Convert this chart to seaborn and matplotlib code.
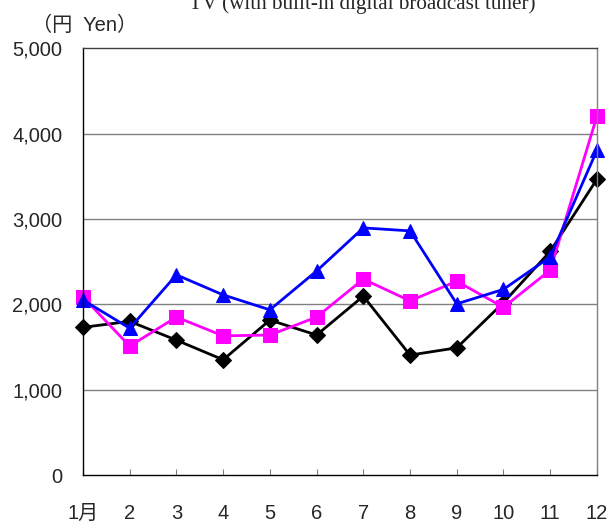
import matplotlib
matplotlib.use("Agg")
import matplotlib.pyplot as plt
import seaborn as sns
import pandas as pd

months = list(range(1, 13))
month_labels = ["1月", "2", "3", "4", "5", "6", "7", "8", "9", "10", "11", "12"]
black_vals = [1730, 1800, 1580, 1350, 1815, 1640, 2095, 1405, 1490, 2020, 2620, 3465]
magenta_vals = [2085, 1510, 1850, 1630, 1640, 1850, 2295, 2040, 2270, 1965, 2400, 4205]
blue_vals = [2050, 1720, 2345, 2110, 1935, 2390, 2895, 2860, 2005, 2175, 2555, 3805]
y_ticks = [0, 1000, 2000, 3000, 4000, 5000]

sns.set_style("white")
plt.rcParams["font.family"] = ["Liberation Sans", "Noto Sans CJK JP", "DejaVu Sans"]

fig = plt.figure(figsize=(6.11, 5.24), dpi=100)
ax = fig.add_axes([0.1358, 0.0935, 0.8412, 0.8145])

for vals, col, mk, ms in [(black_vals, "black", "D", 8),
                          (magenta_vals, "#ff00ff", "s", 10),
                          (blue_vals, "#0000ff", "^", 10)]:
    df = pd.DataFrame({"month": months, "value": vals})
    sns.lineplot(data=df, x="month", y="value", ax=ax, color=col, marker=mk,
                 markersize=ms, markeredgecolor=col, linewidth=2, clip_on=False)

ax.set_xlim(1, 12)
ax.set_ylim(0, 5000)
ax.set_xticks(months)
ax.set_xticklabels(month_labels, fontsize=14.5)
ax.set_yticks(y_ticks)
ax.set_yticklabels([f"{v:,}" for v in y_ticks], fontsize=14.5)
ax.set_xlabel("")
ax.set_ylabel("")
ax.tick_params(axis="x", direction="in", length=4, color="#808080", pad=21, bottom=True)
ax.tick_params(axis="y", length=0, pad=15)
for y in y_ticks[1:-1]:
    ax.axhline(y, color="#808080", linewidth=1, zorder=0)
ax.spines["left"].set_color("black")
ax.spines["bottom"].set_color("black")
ax.spines["top"].set_color("#404040")
ax.spines["right"].set_color("#808080")
for s in ax.spines.values():
    s.set_linewidth(1)

fig.text(362 / 611, 1 - 9 / 524, "TV (with built-in digital broadcast tuner)",
         ha="center", va="baseline", fontsize=15.2, family="Liberation Serif")
fig.text(32 / 611, 1 - 25 / 524, "（円  Yen）", ha="left", va="center", fontsize=14.5)

fig.savefig("out.png", dpi=100)
